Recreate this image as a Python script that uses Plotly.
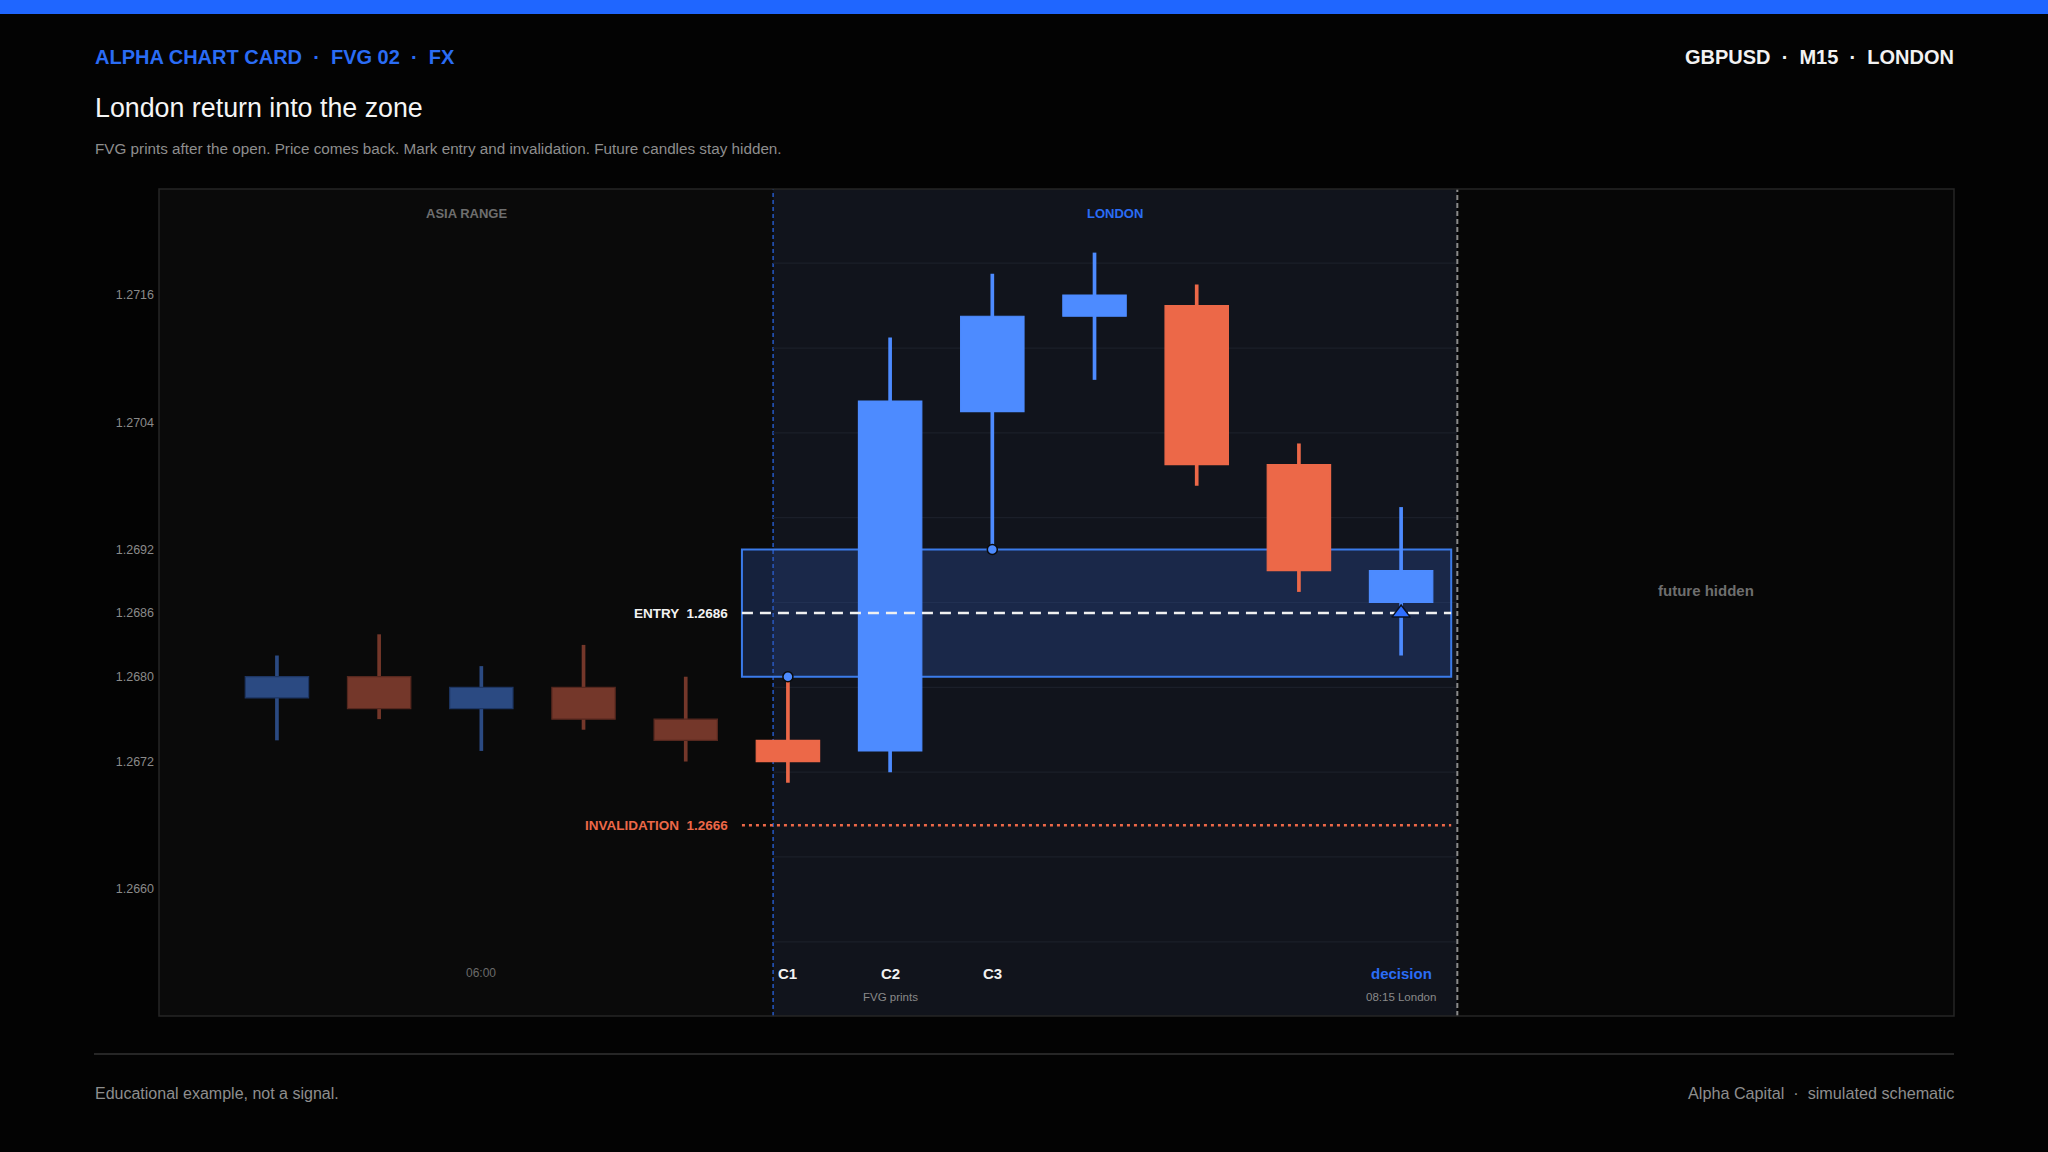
import plotly.graph_objects as go

# chart values
candle_x = list(range(12))
opens = [1.2678, 1.2680, 1.2677, 1.2679, 1.2676, 1.2674, 1.2673, 1.2705, 1.2714, 1.2715, 1.2700, 1.2687]
highs = [1.2682, 1.2684, 1.2681, 1.2683, 1.2680, 1.2680, 1.2712, 1.2718, 1.2720, 1.2717, 1.2702, 1.2696]
lows = [1.2674, 1.2676, 1.2673, 1.2675, 1.2672, 1.2670, 1.2671, 1.2692, 1.2708, 1.2698, 1.2688, 1.2682]
closes = [1.2680, 1.2677, 1.2679, 1.2676, 1.2674, 1.2672, 1.2706, 1.2714, 1.2716, 1.2700, 1.2690, 1.2690]
session = ["asia"] * 5 + ["london"] * 7

ytick_vals = [1.2660, 1.2672, 1.2680, 1.2686, 1.2692, 1.2704, 1.2716]
grid_levels = [1.2655, 1.2663, 1.2671, 1.2679, 1.2687, 1.2695, 1.2703, 1.2711, 1.2719]

entry = 1.2686
invalidation = 1.2666
fvg_low = highs[5]   # C1 high
fvg_high = lows[7]   # C3 low

bottom_marks = [(2, "06:00"), (5, "C1"), (6, "C2"), (7, "C3"), (11, "decision")]
sub_marks = [(6, "FVG prints"), (11, "08:15 London")]

# layout geometry (px)
W, H = 2048, 1152
ML, MR, MT, MB = 159, 94, 189, 136
PW, PH = W - ML - MR, H - MT - MB
X0, X1 = -1.154, 16.41
Y0, Y1 = 1.2648, 1.2726
LONDON_X = 4.855
FUTURE_X = 11.55
ZONE_X0, ZONE_X1 = 4.55, 11.49

FONT = "Liberation Sans, Arial, sans-serif"
BLUE = "#4d8bff"
RED = "#ec6848"
DIM_BLUE = "#2b4a82"
DIM_RED = "#74372a"
ACCENT = "#2a6cf5"


def px(x):
    return (x - ML) / PW


def py(y):
    return (H - MB - y) / PH


colors, edges = [], []
for o, c, s in zip(opens, closes, session):
    up = c >= o
    if s == "asia":
        colors.append(DIM_BLUE if up else DIM_RED)
        edges.append("#1d3562" if up else "#55271e")
    else:
        colors.append(BLUE if up else RED)
        edges.append(BLUE if up else RED)

fig = go.Figure()

# wicks
fig.add_trace(go.Bar(
    x=candle_x, base=lows, y=[h - l for h, l in zip(highs, lows)],
    width=0.036, marker=dict(color=colors, line=dict(width=0)),
    hoverinfo="skip", showlegend=False))

# bodies
fig.add_trace(go.Bar(
    x=candle_x, base=[min(o, c) for o, c in zip(opens, closes)],
    y=[abs(c - o) for o, c in zip(opens, closes)],
    width=0.62, marker=dict(color=colors, line=dict(width=1.2, color=edges)),
    hoverinfo="skip", showlegend=False))

# entry / invalidation lines (traces so the marker can sit on top)
fig.add_trace(go.Scatter(
    x=[ZONE_X0, ZONE_X1], y=[entry, entry], mode="lines",
    line=dict(color="#f0f0f0", width=2.5, dash="11px,7px"),
    hoverinfo="skip", showlegend=False))
fig.add_trace(go.Scatter(
    x=[ZONE_X0, ZONE_X1], y=[invalidation, invalidation], mode="lines",
    line=dict(color=RED, width=2.5, dash="3px,4px"),
    hoverinfo="skip", showlegend=False))

# fvg boundary dots
fig.add_trace(go.Scatter(
    x=[5, 7], y=[fvg_low, fvg_high], mode="markers",
    marker=dict(size=10, color=BLUE, line=dict(width=1.5, color="#0a0a0a")),
    hoverinfo="skip", showlegend=False))

# decision marker
fig.add_trace(go.Scatter(
    x=[11], y=[entry], mode="markers",
    marker=dict(symbol="triangle-up", size=16, color="#2f6fff", line=dict(width=1.5, color="#0a1020")),
    hoverinfo="skip", showlegend=False))

shapes = []
# session backgrounds
shapes.append(dict(type="rect", xref="x", yref="paper", x0=X0, x1=LONDON_X, y0=0, y1=1,
                   fillcolor="#0a0a0a", line=dict(width=0), layer="below"))
shapes.append(dict(type="rect", xref="x", yref="paper", x0=LONDON_X, x1=FUTURE_X, y0=0, y1=1,
                   fillcolor="#11141c", line=dict(width=0), layer="below"))
shapes.append(dict(type="rect", xref="x", yref="paper", x0=FUTURE_X, x1=X1, y0=0, y1=1,
                   fillcolor="#060606", line=dict(width=0), layer="below"))
for g in grid_levels:
    shapes.append(dict(type="line", xref="x", yref="y", x0=LONDON_X, x1=FUTURE_X, y0=g, y1=g,
                       line=dict(color="#1b1f29", width=1.2), layer="below"))
# fvg zone
shapes.append(dict(type="rect", xref="x", yref="y", x0=ZONE_X0, x1=ZONE_X1, y0=fvg_low, y1=fvg_high,
                   fillcolor="rgba(50,90,180,0.3)", line=dict(color="#3b7bea", width=2), layer="below"))
# session dividers
shapes.append(dict(type="line", xref="x", yref="paper", x0=LONDON_X, x1=LONDON_X, y0=0, y1=1,
                   line=dict(color="#2557c4", width=1.5, dash="4px,3px"), layer="below"))
shapes.append(dict(type="line", xref="x", yref="paper", x0=FUTURE_X, x1=FUTURE_X, y0=0, y1=1,
                   line=dict(color="#8a8a8a", width=2, dash="5px,3px")))
# page furniture
shapes.append(dict(type="rect", xref="paper", yref="paper", x0=px(0), x1=px(W), y0=py(14), y1=py(0),
                   fillcolor="#1f66ff", line=dict(width=0)))
shapes.append(dict(type="line", xref="paper", yref="paper", x0=px(94), x1=px(1954), y0=py(1054), y1=py(1054),
                   line=dict(color="#262626", width=2)))
shapes.append(dict(type="rect", xref="paper", yref="paper", x0=0, x1=1, y0=0, y1=1,
                   line=dict(color="#262626", width=1.5)))

ann = []


def text(x, y, s, size, color, bold=False, xanchor="left", xref="paper", yref="paper"):
    ann.append(dict(x=x, y=y, xref=xref, yref=yref, text="<b>%s</b>" % s if bold else s,
                    showarrow=False, xanchor=xanchor, yanchor="middle",
                    font=dict(family=FONT, size=size, color=color)))


text(px(93), py(57), "ALPHA CHART CARD  ·  FVG 02  ·  FX", 20, ACCENT, bold=True)
text(px(1956), py(57), "GBPUSD  ·  M15  ·  LONDON", 20, "#f2f2f2", bold=True, xanchor="right")
text(px(93), py(108), "London return into the zone", 26.8, "#f5f5f5")
text(px(93), py(148), "FVG prints after the open. Price comes back. Mark entry and invalidation. "
                      "Future candles stay hidden.", 15.25, "#8e8e8e")
text(px(93), py(1093), "Educational example, not a signal.", 16, "#8e8e8e")
text(px(1956), py(1093), "Alpha Capital  ·  simulated schematic", 16.2, "#8e8e8e", xanchor="right")

text((X0 + LONDON_X) / 2, py(213), "ASIA RANGE", 13, "#6e6e6e", bold=True, xanchor="center", xref="x")
text((LONDON_X + FUTURE_X) / 2, py(213), "LONDON", 13, ACCENT, bold=True, xanchor="center", xref="x")
text((FUTURE_X + X1) / 2, py(590), "future hidden", 15, "#6e6e6e", bold=True, xanchor="center", xref="x")

text(ZONE_X0 - 0.12, entry, "ENTRY  %.4f" % entry, 13.5, "#f2f2f2", bold=True, xanchor="right", xref="x", yref="y")
text(ZONE_X0 - 0.12, invalidation, "INVALIDATION  %.4f" % invalidation, 13.5, RED, bold=True,
     xanchor="right", xref="x", yref="y")

for xi, lab in bottom_marks:
    if lab == "06:00":
        text(xi, py(973), lab, 12, "#6a6a6a", xanchor="center", xref="x")
    elif lab == "decision":
        text(xi, py(973), lab, 15, ACCENT, bold=True, xanchor="center", xref="x")
    else:
        text(xi, py(973), lab, 15, "#f2f2f2", bold=True, xanchor="center", xref="x")
for xi, lab in sub_marks:
    text(xi, py(997), lab, 11.5, "#8a8a8a", xanchor="center", xref="x")

fig.update_layout(
    width=W, height=H,
    margin=dict(l=ML, r=MR, t=MT, b=MB, pad=0),
    paper_bgcolor="#030303", plot_bgcolor="#0a0a0a",
    barmode="overlay", showlegend=False,
    font=dict(family=FONT),
    shapes=shapes, annotations=ann,
    xaxis=dict(range=[X0, X1], showgrid=False, zeroline=False, showticklabels=False,
               showline=False, fixedrange=True),
    yaxis=dict(range=[Y0, Y1], showgrid=False, zeroline=False, showline=False,
               tickvals=ytick_vals, ticktext=["%.4f" % v for v in ytick_vals],
               tickfont=dict(family=FONT, size=12.5, color="#8a8a8a"), ticks="",
               ticklabelstandoff=4, fixedrange=True),
)

fig.write_html("out.html", config={"displayModeBar": False},
               post_script="document.body.style.margin='0';document.body.style.background='#030303';")
